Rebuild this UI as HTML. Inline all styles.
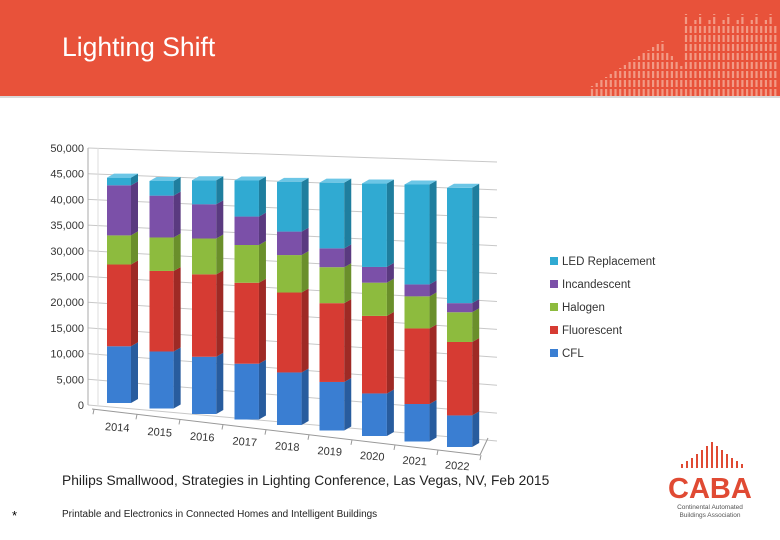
<!DOCTYPE html>
<html><head><meta charset="utf-8">
<style>
body{margin:0;width:780px;height:540px;overflow:hidden;background:#fff;font-family:"Liberation Sans",sans-serif;position:relative}
#hdr{position:absolute;left:0;top:0;width:780px;height:96px;background:#E8523A;border-bottom:2px solid #d9d9d9}
#title{position:absolute;left:62px;top:32px;color:#fff;font-size:26.5px}
#src{position:absolute;left:62px;top:473px;font-size:13.8px;color:#222}
#star{position:absolute;left:12px;top:508px;font-size:13px}
#foot{position:absolute;left:62px;top:509px;font-size:10px;color:#222}
</style></head><body>
<div id="hdr">
<svg id="deco" width="780" height="96" style="position:absolute;left:0;top:0"></svg>
</div>
<div id="title">Lighting Shift</div>
<svg id="chart" width="780" height="540" style="position:absolute;left:0;top:0"></svg>
<div id="src">Philips Smallwood, Strategies in Lighting Conference, Las Vegas, NV, Feb 2015</div>
<div id="star">*</div>
<div id="foot">Printable and Electronics in Connected Homes and Intelligent Buildings</div>
<svg width="120" height="90" style="position:absolute;left:660px;top:430px">
<g fill="#E04A33" id="logobars"></g>
<text x="8" y="68" font-size="29" font-weight="bold" fill="#E04A33" font-family="Liberation Sans">CABA</text>
<text x="50" y="79" font-size="6.5" fill="#555" text-anchor="middle" font-family="Liberation Sans">Continental Automated</text>
<text x="50" y="87" font-size="6.5" fill="#555" text-anchor="middle" font-family="Liberation Sans">Buildings Association</text>
</svg>
<script>
const categories=["2014","2015","2016","2017","2018","2019","2020","2021","2022"];
const seriesNames=["CFL","Fluorescent","Halogen","Incandescent","LED Replacement"];
const cfl=[11.1,10.9,10.7,10.2,9.4,8.5,7.3,6.3,5.2];
const fluorescent=[16.0,15.4,15.4,14.8,14.3,13.8,13.3,12.7,12.1];
const halogen=[5.7,6.4,6.7,6.9,6.7,6.3,5.7,5.4,4.9];
const incandescent=[9.8,8.0,6.4,5.2,4.2,3.3,2.7,2.0,1.5];
const ledReplacement=[1.5,2.8,4.5,6.6,8.9,11.5,14.3,16.8,19.0];
const yTicks=[0,5000,10000,15000,20000,25000,30000,35000,40000,45000,50000];
const NS="http://www.w3.org/2000/svg";
const svg=document.getElementById('chart');
function mk(t,a,p){const e=document.createElementNS(NS,t);for(const k in a)e.setAttribute(k,a[k]);(p||svg).appendChild(e);return e;}
const front=["#3A7ED2","#D63B33","#8DBB3E","#7B50A8","#30AAD2"];
const side=["#285C9E","#9E2A25","#6A8F2B","#5A3A80","#1F7E9E"];
const topc=["#6FA3E3","#E8706A","#B2D56D","#A07FC6","#6CC6E6"];
function wallY(v,x){const t=(x-88)/(497-88);const y0=405+(441-405)*t;const y50=148+(162-148)*t;return y0+(y50-y0)*v/50000;}
yTicks.forEach(v=>{
 const l=mk('line',{x1:88,y1:wallY(v,88),x2:497,y2:wallY(v,497),stroke:"#c8c8c8","stroke-width":1});
 
 const t=mk('text',{x:84,y:wallY(v,88)+4,"font-size":11,"text-anchor":"end",fill:"#333"});
 t.textContent=v.toLocaleString('en-US');
 
});
mk('line',{x1:88,y1:148,x2:88,y2:405,stroke:"#aaa"});
mk('line',{x1:98,y1:148,x2:98,y2:405,stroke:"#ddd"});
mk('line',{x1:92,y1:409,x2:480,y2:455,stroke:"#999"});
mk('line',{x1:480,y1:455,x2:488,y2:438,stroke:"#999"});
for(let i=0;i<=categories.length;i++){const x=94+i*43;const y=409+(455-409)*(x-92)/388;mk('line',{x1:x,y1:y,x2:x-1,y2:y+5,stroke:"#999"});}
const series=[cfl,fluorescent,halogen,incandescent,ledReplacement];
categories.forEach((c,i)=>{
 const x=107+i*42.5, w=24+i*0.15, base=403+i*5.5, k=(5.11+0.12*i);
 let cum=0;
 series.forEach((s,j)=>{
  const y1=base-cum*k; cum+=s[i]; const y2=base-cum*k;
  const g=mk('g',{});
  
  
  mk('rect',{x:x,y:y2,width:w,height:y1-y2,fill:front[j]},g);
  mk('polygon',{points:`${x+w},${y1} ${x+w+7},${y1-4} ${x+w+7},${y2-4} ${x+w},${y2}`,fill:side[j]},g);
  if(j===4) mk('polygon',{points:`${x},${y2} ${x+7},${y2-4} ${x+w+7},${y2-4} ${x+w},${y2}`,fill:topc[j]},g);
 });
 const t=mk('text',{x:x+10,y:431+i*4.8,"font-size":11,"text-anchor":"middle",fill:"#333",transform:`rotate(4 ${x+10} ${431+i*4.8})`});
 t.textContent=c;
});
const legY=[354,331,308,285,262];
seriesNames.forEach((n,j)=>{
 const g=mk('g',{});
 mk('rect',{x:550,y:legY[j]-5,width:8,height:8,fill:front[j]},g);
 const t=mk('text',{x:562,y:legY[j]+3,"font-size":11.5,fill:"#333"},g);t.textContent=n;
});
const deco=document.getElementById('deco');
for(let i=0;i<40;i++){const x=592+i*4.7;const h=Math.max(5,i<16?10+i*3:(i<20?45-(i-16)*5:70+(i%3)*6));
 mk('line',{x1:x,y1:96,x2:x,y2:96-h,stroke:"#F29A85","stroke-width":2.2,"stroke-dasharray":"7 2"},deco);}
const lb=document.getElementById('logobars');
for(let i=0;i<13;i++){const h=[4,7,10,14,18,22,26,22,18,14,10,7,4][i];mk('rect',{x:21+i*5,y:38-h,width:2,height:h},lb);}
</script>
</body></html>
